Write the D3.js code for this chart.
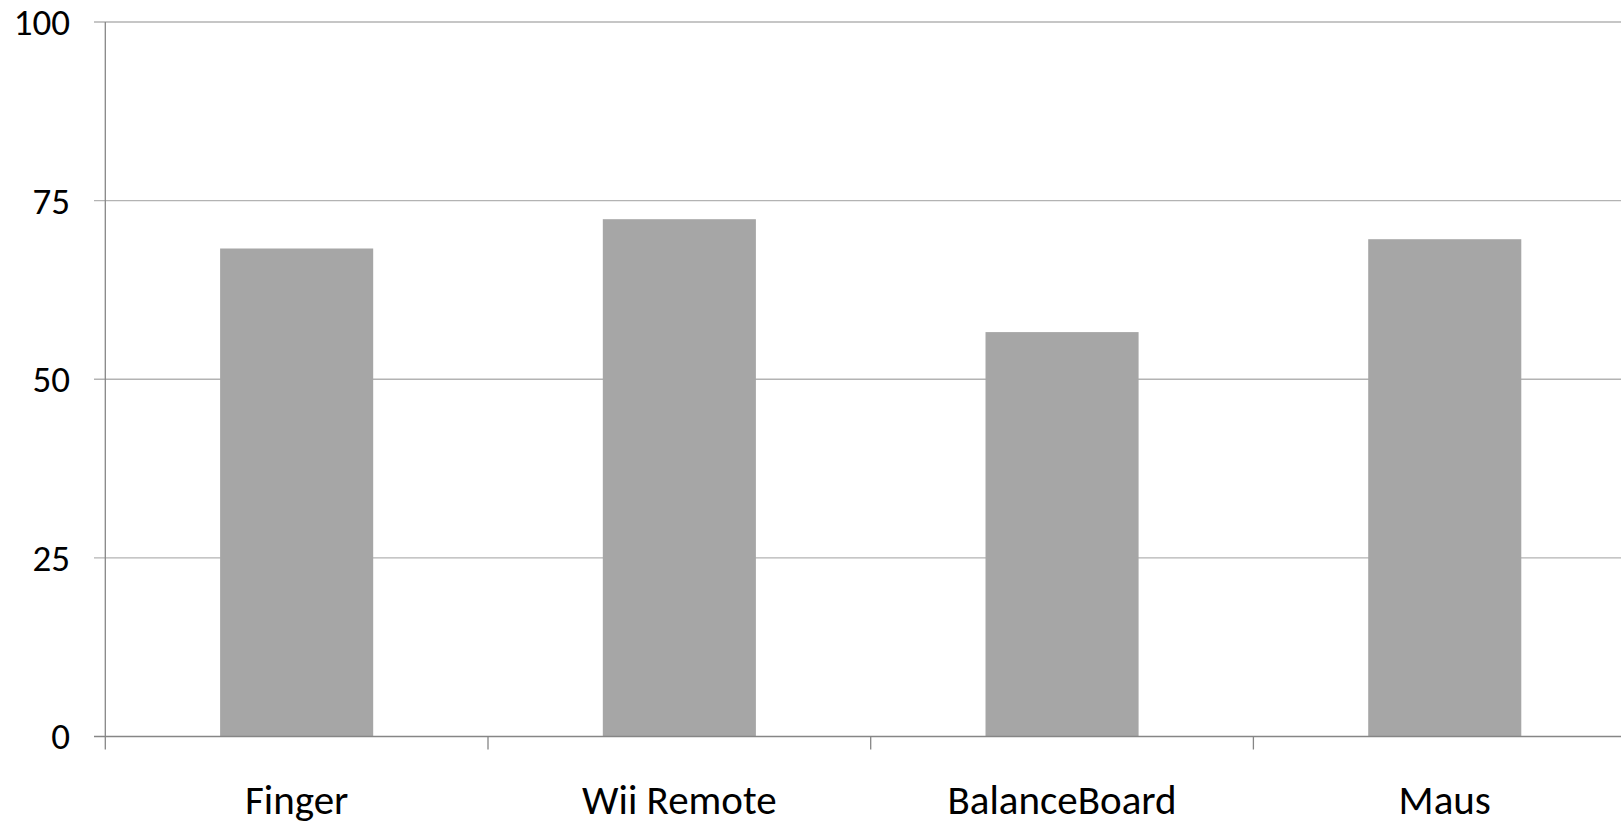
<!DOCTYPE html>
<html><head><meta charset="utf-8">
<script src="https://cdn.jsdelivr.net/npm/d3@7"></script>
<style>html,body{margin:0;padding:0;background:#fff;overflow:hidden}</style>
</head><body>
<svg id="chart" width="1621" height="824"></svg>
<script>
const categories = ["Finger", "Wii Remote", "BalanceBoard", "Maus"];
const values = [68.3, 72.4, 56.6, 69.6];
const yTicks = [0, 25, 50, 75, 100];

const svg = d3.select("#chart");
const font = "Carlito, Calibri, 'Open Sans', sans-serif";
const left = 105.3, y0 = 736.5, y100 = 22;
const step = 382.7;

const x = d3.scaleBand().domain(categories)
  .range([left, left + step * categories.length])
  .paddingInner(0.6).paddingOuter(0.3);
const y = d3.scaleLinear().domain([0, 100]).range([y0, y100]);

// gridlines
svg.append("g").selectAll("line").data(yTicks.filter(d => d > 0)).join("line")
  .attr("x1", 94).attr("x2", 1621)
  .attr("y1", d => y(d)).attr("y2", d => y(d))
  .attr("stroke", "#b3b3b3").attr("stroke-width", 1.3);

// bars
svg.append("g").selectAll("rect").data(values).join("rect")
  .attr("x", (d, i) => x(categories[i]))
  .attr("width", x.bandwidth())
  .attr("y", d => y(d))
  .attr("height", d => y(0) - y(d))
  .attr("fill", "#a6a6a6");

// y axis line
svg.append("line").attr("x1", left).attr("x2", left).attr("y1", y(100)).attr("y2", y(0))
  .attr("stroke", "#868686").attr("stroke-width", 1.3);
// zero tick + axis
svg.append("line").attr("x1", 94).attr("x2", 1621).attr("y1", y(0)).attr("y2", y(0))
  .attr("stroke", "#868686").attr("stroke-width", 1.3);

// category ticks at band boundaries
const bounds = categories.map(c => x(c) - x.step() * 0.3);
svg.append("g").selectAll("line").data(bounds).join("line")
  .attr("x1", d => d).attr("x2", d => d)
  .attr("y1", y(0)).attr("y2", y(0) + 13)
  .attr("stroke", "#868686").attr("stroke-width", 1.3);

// y tick labels
svg.append("g").selectAll("text").data(yTicks).join("text")
  .attr("x", 70).attr("y", d => y(d))
  .attr("dy", "0.35em")
  .attr("text-anchor", "end")
  .attr("font-family", font).attr("font-size", 37)
  .attr("fill", "#000")
  .text(d => d);

// x labels
svg.append("g").selectAll("text").data(categories).join("text")
  .attr("x", d => x(d) + x.bandwidth() / 2)
  .attr("y", 814)
  .attr("text-anchor", "middle")
  .attr("font-family", font).attr("font-size", 41)
  .attr("fill", "#000")
  .text(d => d);
</script>
</body></html>
